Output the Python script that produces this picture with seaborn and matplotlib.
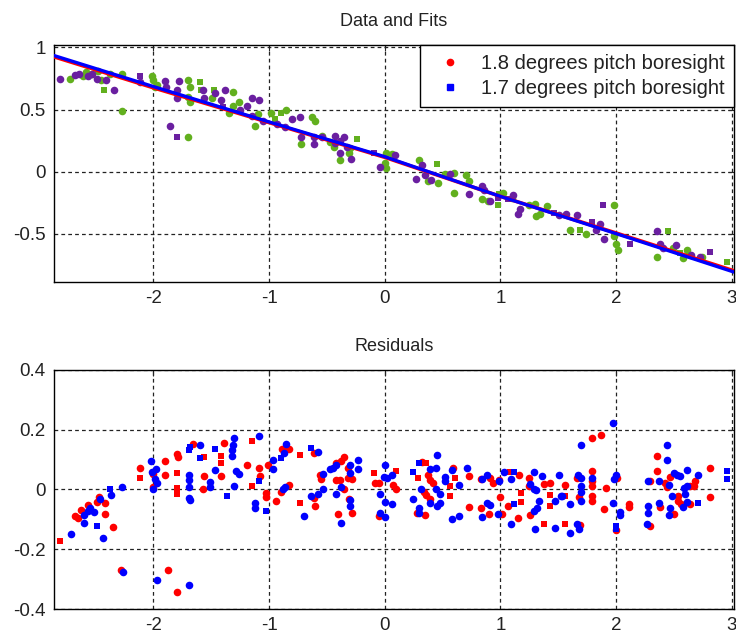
import matplotlib
matplotlib.use("Agg")
import matplotlib.pyplot as plt
import seaborn as sns
import pandas as pd
from matplotlib.lines import Line2D

# ---------------- data: top panel (Data and Fits) ----------------
green_dot = [(-2.72,0.745),(-2.61,0.77),(-2.58,0.80),(-2.53,0.79),(-2.48,0.81),(-2.45,0.74),(-2.38,0.79),
             (-2.27,0.79),(-2.27,0.49),(-2.01,0.77),(-2.00,0.74),(-1.97,0.70),(-1.99,0.68),(-1.70,0.74),
             (-1.68,0.68),(-1.70,0.60),(-1.68,0.56),(-1.70,0.28),(-1.49,0.59),(-1.35,0.47),(-1.31,0.64),
             (-1.31,0.53),(-1.26,0.56),(-1.10,0.46),(-1.12,0.37),(-0.98,0.47),(-0.85,0.50),(-0.63,0.44),
             (-0.60,0.41),(-0.72,0.22),(-0.54,0.29),(-0.47,0.24),(-0.44,0.20),(-0.39,0.09),(-0.31,0.15),
             (-0.30,0.19),(0.01,0.15),(0.01,0.03),(0.0,0.07),(0.06,0.14),(0.30,0.09),(0.37,-0.08),
             (0.46,-0.09),(0.52,-0.02),(0.60,-0.01),(0.60,-0.17),(0.70,-0.03),(0.73,-0.08),(0.84,-0.22),
             (0.89,-0.24),(1.02,-0.17),(1.10,-0.21),(1.25,-0.27),(1.30,-0.26),(1.31,-0.36),(1.34,-0.34),
             (1.40,-0.28),(1.60,-0.47),(1.74,-0.50),(1.98,-0.52),(2.00,-0.58),(2.02,-0.63),(1.98,-0.27),
             (2.35,-0.69),(2.49,-0.62),(2.58,-0.70),(2.61,-0.63),(2.74,-0.69)]
green_sq = [(-2.43,0.66),(-1.60,0.72),(-1.59,0.66),(-1.48,0.66),(-0.95,0.42),(-0.90,0.47),(-0.24,0.26),
            (0.45,0.06),(0.99,-0.18),(0.98,-0.27),(1.69,-0.47),(2.45,-0.48),(2.55,-0.66),(2.96,-0.73)]
purple_dot = [(-2.81,0.745),(-2.68,0.78),(-2.64,0.79),(-2.57,0.77),(-2.53,0.79),(-2.49,0.75),(-2.41,0.74),
              (-2.34,0.66),(-2.12,0.72),(-1.90,0.73),(-1.89,0.68),(-1.86,0.37),(-1.80,0.59),(-1.80,0.66),
              (-1.78,0.73),(-1.57,0.66),(-1.56,0.59),(-1.47,0.63),(-1.42,0.58),(-1.38,0.66),(-1.25,0.50),
              (-1.19,0.53),(-1.15,0.59),(-1.09,0.58),(-1.15,0.45),(-1.05,0.41),(-0.93,0.38),(-0.86,0.36),
              (-0.80,0.42),(-0.73,0.44),(-0.72,0.28),(-0.61,0.28),(-0.61,0.22),(-0.54,0.28),(-0.43,0.29),
              (-0.39,0.25),(-0.35,0.28),(-0.33,0.20),(-0.29,0.10),(-0.39,0.15),(-0.43,0.23),(-0.04,0.04),
              (0.09,0.13),(0.32,0.05),(0.35,-0.03),(0.27,-0.06),(0.40,-0.07),(0.56,-0.02),(0.84,-0.12),
              (0.73,-0.18),(0.86,-0.15),(0.91,-0.24),(1.11,-0.19),(1.17,-0.30),(1.15,-0.34),(1.51,-0.35),
              (1.57,-0.34),(1.66,-0.35),(1.83,-0.47),(1.86,-0.42),(1.90,-0.54),(2.35,-0.48),(2.38,-0.58),
              (2.41,-0.62),(2.52,-0.59),(2.65,-0.67),(2.73,-0.69)]
purple_sq = [(-2.12,0.77),(-1.80,0.28),(-1.40,0.52),(-0.09,0.15),(0.98,-0.21),(1.07,-0.22),(1.46,-0.33),
             (1.79,-0.41),(1.89,-0.27),(2.12,-0.58),(2.81,-0.65)]

fit_x = [-2.86, -2.0, -1.0, 0.0, 1.0, 2.0, 3.02]
fit_red_y = [0.925, 0.675, 0.395, 0.115, -0.200, -0.495, -0.800]
fit_blue_y = [0.935, 0.685, 0.400, 0.120, -0.200, -0.500, -0.810]

legend_labels = ["1.8 degrees pitch boresight", "1.7 degrees pitch boresight"]

# ---------------- data: bottom panel (Residuals) ----------------
red_dot = [(-2.68,-0.089),(-2.65,-0.097),(-2.63,-0.069),(-2.57,-0.052),(-2.49,-0.041),(-2.47,-0.024),
           (-2.42,-0.044),(-2.42,-0.083),(-2.35,-0.127),(-2.28,-0.269),(-2.12,0.073),(-2.0,0.01),(-2.0,0.052),
           (-1.90,0.095),(-1.90,0.050),(-1.80,0.119),(-1.79,0.108),(-1.66,0.152),(-1.56,0.045),(-1.39,0.156),
           (-1.42,0.045),(-1.57,0.003),(-1.87,-0.269),(-1.80,-0.342),(-1.19,0.082),(-1.09,0.071),(-1.08,0.045),
           (-1.03,-0.011),(-1.03,-0.026),(-1.01,0.082),(-0.94,-0.037),(-0.89,0.137),(-0.83,0.137),(-0.83,0.015),
           (-0.90,-0.007),(-0.61,0.121),(-0.61,-0.029),(-0.60,-0.055),(-0.56,0.048),(-0.55,0.034),(-0.42,0.090),
           (-0.38,0.096),(-0.35,0.110),(-0.42,0.032),(-0.39,0.032),(-0.35,0.0),(-0.32,0.072),(-0.32,0.037),
           (-0.28,0.034),(-0.31,-0.033),(-0.28,-0.077),(-0.40,-0.082),(-0.08,0.023),(-0.05,0.023),(-0.05,-0.088),
           (0.07,0.015),(0.10,0.0),(0.32,0.093),(0.37,0.048),(0.39,0.032),(0.42,0.021),(0.34,-0.007),
           (0.36,-0.018),(0.39,-0.033),(0.28,-0.077),(0.35,-0.085),(0.59,0.071),(0.73,0.045),(0.73,-0.059),
           (0.83,0.034),(0.91,0.037),(0.83,-0.062),(0.90,-0.082),(0.94,0.023),(0.99,0.032),(1.00,-0.026),
           (1.01,-0.082),(1.16,0.049),(1.07,-0.055),(1.15,-0.096),(1.25,0.04),(1.25,0.012),(1.38,0.019),
           (1.43,0.023),(1.26,-0.084),(1.56,0.015),(1.66,0.038),(1.68,-0.026),(1.69,-0.119),(1.79,0.171),
           (1.87,0.182),(1.79,0.063),(1.79,0.027),(1.79,0.012),(1.79,-0.022),(1.79,-0.038),(1.91,0.004),
           (1.90,-0.066),(2.01,0.038),(2.0,-0.137),(2.11,-0.049),(2.11,-0.060),(2.29,-0.121),(2.29,0.027),
           (2.35,0.111),(2.35,0.063),(2.38,-0.059),(2.42,0.023),(2.44,0.009),(2.47,0.043),(2.50,-0.082),
           (2.54,-0.040),(2.56,-0.049),(2.54,-0.022),(2.64,0.012),(2.67,0.012),(2.68,0.027),(2.64,-0.047),
           (2.81,0.071),(2.81,-0.026)]
red_sq = [(-2.81,-0.172),(-2.12,0.039),(-1.80,0.054),(-1.80,0.004),(-1.80,-0.016),(-1.56,0.110),(-1.42,0.112),
          (-1.42,0.088),(-1.15,0.162),(-1.15,0.012),(-0.73,0.115),(-0.73,-0.044),(-0.09,0.056),(0.10,0.063),
          (0.29,0.037),(0.36,0.088),(0.56,0.012),(0.56,-0.022),(0.61,0.037),(1.08,0.057),(1.18,-0.041),
          (1.18,-0.011),(1.43,-0.018),(1.43,-0.055),(1.38,-0.115),(1.56,-0.022),(1.56,-0.115)]
blue_dot = [(-2.71,-0.149),(-2.60,-0.085),(-2.57,-0.071),(-2.55,-0.062),(-2.51,-0.076),(-2.46,-0.033),
            (-2.44,-0.163),(-2.60,-0.111),(-2.37,-0.018),(-2.27,0.009),(-2.26,-0.277),(-2.02,0.095),(-2.01,0.060),
            (-1.98,0.068),(-2.0,0.0),(-1.99,0.036),(-1.97,0.022),(-1.60,0.149),(-1.69,0.047),(-1.69,0.031),
            (-1.69,0.007),(-1.69,-0.030),(-1.68,-0.035),(-1.47,0.065),(-1.51,0.026),(-1.51,0.008),(-1.97,-0.303),
            (-1.69,-0.319),(-1.30,0.171),(-1.31,0.148),(-1.32,0.131),(-1.32,0.111),(-1.09,0.179),(-1.29,0.063),
            (-1.26,0.052),(-1.30,0.012),(-1.12,-0.044),(-1.12,-0.061),(-0.97,0.099),(-0.97,0.068),(-0.87,0.123),
            (-0.85,0.152),(-0.88,0.0),(-0.86,0.007),(-0.58,0.127),(-0.64,-0.022),(-0.58,-0.015),(-0.70,-0.088),
            (-0.53,0.053),(-0.47,0.069),(-0.45,0.073),(-0.42,0.081),(-0.53,0.0),(-0.38,0.007),(-0.42,-0.016),
            (-0.23,0.099),(-0.23,0.068),(-0.30,0.082),(-0.30,0.056),(-0.30,-0.035),(-0.30,-0.055),(-0.38,-0.111),
            (0.0,0.082),(-0.01,0.043),(0.02,0.037),(-0.04,-0.016),(0.0,-0.041),(-0.04,-0.077),(0.0,-0.093),
            (0.06,0.05),(0.06,-0.05),(0.39,0.068),(0.44,0.071),(0.45,0.115),(0.31,0.0),(0.24,-0.033),
            (0.30,-0.062),(0.30,-0.077),(0.39,-0.044),(0.45,-0.055),(0.48,-0.046),(0.48,-0.015),(0.44,0.0),
            (0.52,0.043),(0.52,0.027),(0.58,0.066),(0.64,0.015),(0.58,-0.100),(0.64,-0.089),(0.71,0.071),
            (0.84,0.034),(0.88,0.048),(0.84,-0.092),(0.88,-0.044),(0.91,-0.052),(0.99,0.030),(0.98,-0.082),
            (1.03,0.057),(1.09,0.034),(1.09,-0.115),(1.26,0.018),(1.29,0.0),(1.31,-0.002),(1.29,0.057),
            (1.36,0.045),(1.33,-0.040),(1.32,-0.062),(1.29,-0.073),(1.30,-0.133),(1.47,-0.130),(1.47,-0.040),
            (1.52,-0.021),(1.51,0.049),(1.53,-0.022),(1.60,-0.049),(1.60,-0.144),(1.67,0.049),(1.70,0.038),
            (1.70,0.012),(1.70,-0.007),(1.70,-0.040),(1.66,-0.115),(1.68,-0.133),(1.70,0.149),(1.97,0.221),
            (1.79,0.038),(1.97,-0.044),(1.98,0.034),(2.0,0.049),(2.03,-0.074),(2.03,-0.085),(2.28,-0.055),
            (2.28,-0.077),(2.27,-0.115),(2.28,0.030),(2.37,0.030),(2.37,-0.044),(2.44,0.149),(2.44,0.099),
            (2.46,0.016),(2.50,0.054),(2.53,0.049),(2.55,0.045),(2.48,-0.022),(2.47,-0.062),(2.46,-0.084),
            (2.59,0.004),(2.61,0.013),(2.60,-0.016),(2.58,-0.057),(2.61,-0.042),(2.61,0.065),(2.71,0.049)]
blue_sq = [(-2.49,-0.121),(-2.38,0.0),(-1.68,0.143),(-1.69,0.132),(-1.60,0.107),(-1.47,0.134),(-1.09,0.03),
           (-1.36,-0.022),(-1.03,-0.071),(-0.90,0.107),(-0.64,0.138),(0.24,0.057),(0.30,0.088),(1.12,0.057),
           (1.12,-0.049),(2.0,-0.121),(2.0,-0.132),(2.71,-0.045),(2.96,0.063),(2.96,0.034)]

x_ticks = [-2, -1, 0, 1, 2, 3]
x_ticklabels = ["-2", "-1", "0", "1", "2", "3"]
top_yticks = [-0.5, 0, 0.5, 1]
top_yticklabels = ["-0.5", "0", "0.5", "1"]
bot_yticks = [-0.4, -0.2, 0, 0.2, 0.4]
bot_yticklabels = ["-0.4", "-0.2", "0", "0.2", "0.4"]

# ---------------- style ----------------
sns.set_style("white")
plt.rcParams["font.family"] = ["Liberation Sans", "DejaVu Sans"]
plt.rcParams["axes.unicode_minus"] = False

GREEN = "#62b01e"
PURPLE = "#6a1fa0"
RED = "#ff0000"
BLUE = "#0000ff"
DOT_S = 30
SQ_S = 22

fig = plt.figure(figsize=(7.36, 6.36), dpi=100)
ax1 = fig.add_axes([54/736, 1-282/636, 680/736, 237/636])
ax2 = fig.add_axes([54/736, 1-609/636, 680/736, 239/636])


def df(pts):
    return pd.DataFrame(pts, columns=["x", "y"])


def style_axes(ax):
    ax.grid(True, color="#222222", linestyle=(0, (3, 2.5)), linewidth=0.9)
    ax.set_axisbelow(True)
    for s in ax.spines.values():
        s.set_color("black")
        s.set_linewidth(1.0)
    ax.tick_params(axis="both", direction="in", length=4, width=0.8, top=True, right=True,
                   labelsize=13.5, labelcolor="#222222", pad=6)
    ax.set_xlabel("")
    ax.set_ylabel("")


# top panel
sns.scatterplot(data=df(green_dot), x="x", y="y", ax=ax1, color=GREEN, marker="o", s=DOT_S, linewidth=0, zorder=3)
sns.scatterplot(data=df(green_sq), x="x", y="y", ax=ax1, color=GREEN, marker="s", s=SQ_S, linewidth=0, zorder=3)
sns.scatterplot(data=df(purple_dot), x="x", y="y", ax=ax1, color=PURPLE, marker="o", s=DOT_S, linewidth=0, zorder=3)
sns.scatterplot(data=df(purple_sq), x="x", y="y", ax=ax1, color=PURPLE, marker="s", s=SQ_S, linewidth=0, zorder=3)
sns.lineplot(x=fit_x, y=fit_red_y, ax=ax1, color=RED, linewidth=2.6, zorder=4)
sns.lineplot(x=fit_x, y=fit_blue_y, ax=ax1, color=BLUE, linewidth=2.4, zorder=5)
ax1.set_xlim(-2.86, 3.02)
ax1.set_ylim(-0.89, 1.02)
ax1.set_xticks(x_ticks)
ax1.set_xticklabels(x_ticklabels)
ax1.set_yticks(top_yticks)
ax1.set_yticklabels(top_yticklabels)
style_axes(ax1)
ax1.set_title("Data and Fits", fontsize=13, color="#222222", pad=14)

handles = [Line2D([], [], linestyle="none", marker="o", color=RED, markersize=4.5),
           Line2D([], [], linestyle="none", marker="s", color=BLUE, markersize=3.8)]
leg = ax1.legend(handles, legend_labels, loc="upper right", bbox_to_anchor=(1.0, 1.0),
                 borderaxespad=0, frameon=True, fancybox=False, framealpha=1,
                 edgecolor="black", fontsize=14.5, handletextpad=0.5, borderpad=0.45,
                 labelspacing=0.3, handlelength=2.1)
leg.get_frame().set_linewidth(1.0)
for t in leg.get_texts():
    t.set_color("#222222")

# bottom panel
sns.scatterplot(data=df(red_dot), x="x", y="y", ax=ax2, color=RED, marker="o", s=DOT_S, linewidth=0, zorder=3)
sns.scatterplot(data=df(red_sq), x="x", y="y", ax=ax2, color=RED, marker="s", s=SQ_S, linewidth=0, zorder=3)
sns.scatterplot(data=df(blue_dot), x="x", y="y", ax=ax2, color=BLUE, marker="o", s=DOT_S, linewidth=0, zorder=3)
sns.scatterplot(data=df(blue_sq), x="x", y="y", ax=ax2, color=BLUE, marker="s", s=SQ_S, linewidth=0, zorder=3)
ax2.set_xlim(-2.86, 3.02)
ax2.set_ylim(-0.4, 0.4)
ax2.set_xticks(x_ticks)
ax2.set_xticklabels(x_ticklabels)
ax2.set_yticks(bot_yticks)
ax2.set_yticklabels(bot_yticklabels)
style_axes(ax2)
ax2.set_title("Residuals", fontsize=13, color="#222222", pad=14)

fig.savefig("out.png", dpi=100)
